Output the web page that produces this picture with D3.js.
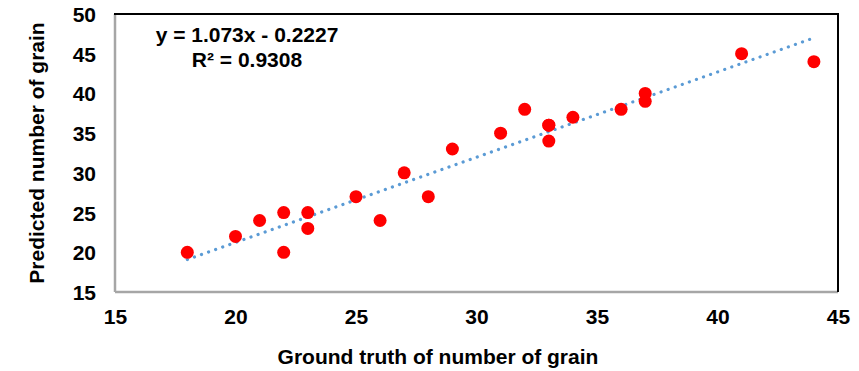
<!DOCTYPE html>
<html>
<head>
<meta charset="utf-8">
<script src="https://cdn.jsdelivr.net/npm/d3@7/dist/d3.min.js"></script>
<style>
  html, body { margin: 0; padding: 0; background: #fff; }
  svg { display: block; font-family: "Liberation Sans", Arial, sans-serif; }
</style>
</head>
<body>
<svg id="chart" width="859" height="371"></svg>
<script>
// Ground truth vs predicted grain counts
const groundTruth = [18, 20, 21, 22, 22, 23, 23, 25, 26, 27, 28, 29, 31, 32, 33, 33, 33, 34, 36, 37, 37, 41, 44];
const predicted   = [20, 22, 24, 25, 20, 25, 23, 27, 24, 30, 27, 33, 35, 38, 36, 36, 34, 37, 38, 40, 39, 45, 44];

// Linear trendline
const slope = 1.073;
const intercept = -0.2227;
const rSquared = 0.9308;

const xTicks = [15, 20, 25, 30, 35, 40, 45];
const yTicks = [15, 20, 25, 30, 35, 40, 45, 50];

const xTitle = "Ground truth of number of grain";
const yTitle = "Predicted number of grain";

const FONT_SIZE = 21;

const svg = d3.select("#chart");
const plot = { left: 115, right: 838, top: 14, bottom: 292 };

const x = d3.scaleLinear().domain([15, 45]).range([plot.left, plot.right]);
const y = d3.scaleLinear().domain([15, 50]).range([plot.bottom, plot.top]);

// Tick labels (no tick marks)
const xAxis = d3.axisBottom(x).tickValues(xTicks).tickSize(0).tickPadding(17);
const yAxis = d3.axisLeft(y).tickValues(yTicks).tickSize(0).tickPadding(19);

const gx = svg.append("g").attr("transform", `translate(0,${plot.bottom})`).call(xAxis);
const gy = svg.append("g").attr("transform", `translate(${plot.left},0)`).call(yAxis);
[gx, gy].forEach(g => {
  g.select(".domain").remove();
  g.selectAll("text")
    .attr("font-family", "Liberation Sans, Arial, sans-serif")
    .attr("font-size", FONT_SIZE)
    .attr("font-weight", "bold")
    .attr("fill", "#000");
});
gy.selectAll("text").attr("dy", "0.36em");

// Plot frame: grey left/bottom, black top/right
svg.append("line").attr("x1", plot.left).attr("x2", plot.left)
  .attr("y1", plot.top).attr("y2", plot.bottom)
  .attr("stroke", "#a6a6a6").attr("stroke-width", 2.5);
svg.append("line").attr("x1", plot.left).attr("x2", plot.right)
  .attr("y1", plot.bottom).attr("y2", plot.bottom)
  .attr("stroke", "#a6a6a6").attr("stroke-width", 2.5);
svg.append("line").attr("x1", plot.left - 1).attr("x2", plot.right + 1)
  .attr("y1", plot.top).attr("y2", plot.top)
  .attr("stroke", "#000").attr("stroke-width", 2);
svg.append("line").attr("x1", plot.right).attr("x2", plot.right)
  .attr("y1", plot.top).attr("y2", plot.bottom)
  .attr("stroke", "#000").attr("stroke-width", 2);

// Trendline across the observed range
const xMin = d3.min(groundTruth), xMax = d3.max(groundTruth);
const trend = [xMin, xMax].map(v => [v, slope * v + intercept]);
svg.append("path")
  .attr("d", d3.line().x(d => x(d[0])).y(d => y(d[1]))(trend))
  .attr("fill", "none")
  .attr("stroke", "#5B9BD5")
  .attr("stroke-width", 3.2)
  .attr("stroke-linecap", "round")
  .attr("stroke-dasharray", "0.1 7.4");

// Data points
svg.append("g").selectAll("circle")
  .data(groundTruth.map((g, i) => [g, predicted[i]]))
  .join("circle")
  .attr("cx", d => x(d[0]))
  .attr("cy", d => y(d[1]))
  .attr("r", 6.5)
  .attr("fill", "#FF0000");

// Equation label
const eq = svg.append("text")
  .attr("x", 247).attr("y", 42)
  .attr("text-anchor", "middle")
  .attr("font-size", FONT_SIZE).attr("font-weight", "bold").attr("fill", "#000");
eq.append("tspan").attr("x", 247).text(`y = ${slope}x - ${Math.abs(intercept)}`);
eq.append("tspan").attr("x", 247).attr("dy", 25).text(`R² = ${rSquared}`);

// Axis titles
svg.append("text")
  .attr("x", 438).attr("y", 364)
  .attr("text-anchor", "middle")
  .attr("font-size", FONT_SIZE).attr("font-weight", "bold").attr("fill", "#000")
  .text(xTitle);

svg.append("text")
  .attr("transform", `translate(44,153) rotate(-90)`)
  .attr("text-anchor", "middle")
  .attr("font-size", FONT_SIZE).attr("font-weight", "bold").attr("fill", "#000")
  .text(yTitle);
</script>
</body>
</html>
